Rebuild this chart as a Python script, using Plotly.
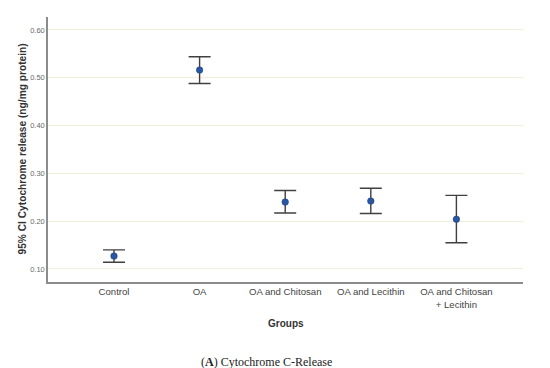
import plotly.graph_objects as go

groups = ["Control", "OA", "OA and Chitosan", "OA and Lecithin", "OA and Chitosan<br>+ Lecithin"]
means = [0.127, 0.516, 0.240, 0.242, 0.204]
upper = [0.140, 0.544, 0.264, 0.269, 0.254]
lower = [0.114, 0.488, 0.217, 0.216, 0.155]
y_ticks = [0.10, 0.20, 0.30, 0.40, 0.50, 0.60]

err_plus = [u - m for u, m in zip(upper, means)]
err_minus = [m - l for m, l in zip(means, lower)]

fig = go.Figure()
fig.add_trace(go.Scatter(
    x=list(range(len(groups))), y=means, mode="markers",
    marker=dict(size=6.5, color="#2957a4", line=dict(color="#1f3f7a", width=0.6)),
    error_y=dict(type="data", symmetric=False, array=err_plus, arrayminus=err_minus,
                 color="#404040", thickness=1.4, width=11),
    showlegend=False,
))

fig.update_layout(
    width=550, height=368,
    margin=dict(l=40, r=35, t=9, b=94),
    plot_bgcolor="white", paper_bgcolor="white",
    font=dict(family="Liberation Sans, Arial, sans-serif", color="#333"),
    xaxis=dict(
        tickmode="array", tickvals=list(range(len(groups))), ticktext=groups,
        range=[-0.771, 4.778], showgrid=False, zeroline=False, automargin=False,
        showline=True, linecolor="#8c8c8c", linewidth=1.5,
        ticks="", tickfont=dict(size=9.6, color="#444"),
    ),
    yaxis=dict(
        range=[0.0728, 0.627], tickvals=y_ticks, tickformat=".2f", automargin=False,
        showgrid=True, gridcolor="#f3eedc", gridwidth=1, zeroline=False,
        showline=True, linecolor="#8c8c8c", linewidth=1.5,
        ticks="", tickfont=dict(size=7.5, color="#6a6a6a"),
    ),
    annotations=[
        dict(text="<b>95% CI Cytochrome release (ng/mg protein)</b>", textangle=-90,
             xref="paper", yref="paper", x=0, y=0.5, xshift=-26,
             xanchor="center", yanchor="middle", showarrow=False,
             font=dict(size=10.2, color="#333")),
        dict(text="<b>Groups</b>", xref="paper", yref="paper", x=0.5, y=0, yshift=-41,
             xanchor="center", yanchor="middle", showarrow=False,
             font=dict(size=10, color="#333")),
        dict(text="(<b>A</b>) Cytochrome C-Release", xref="paper", yref="paper",
             x=0.46, y=0, yshift=-80, xanchor="center", yanchor="middle", showarrow=False,
             font=dict(family="Liberation Serif, Times New Roman, serif", size=12, color="#222")),
    ],
)

fig.write_html("out.html")
